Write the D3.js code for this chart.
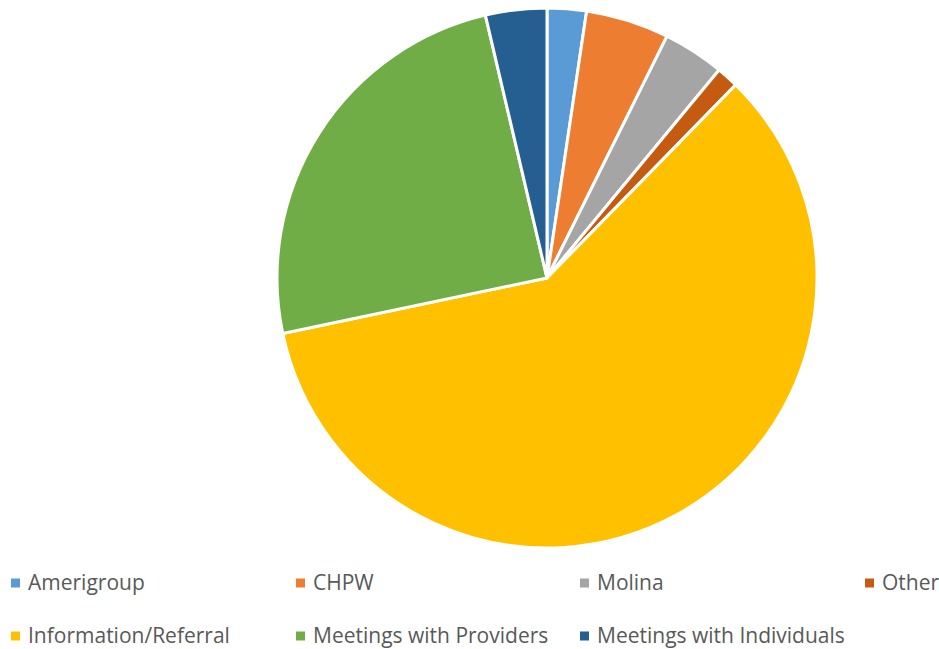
<!DOCTYPE html>
<html>
<head>
<meta charset="utf-8">
<script src="https://cdn.jsdelivr.net/npm/d3@7"></script>
<style>
  html, body { margin: 0; padding: 0; background: #fff; }
  svg { display: block; }
</style>
</head>
<body>
<svg id="chart" width="939" height="649"></svg>
<script>
// Contact categories and their counts
const categories = [
  "Amerigroup", "CHPW", "Molina", "Other",
  "Information/Referral", "Meetings with Providers", "Meetings with Individuals"
];
const values = [16, 34, 25, 9, 405, 168, 25];
const colors = ["#5B9BD5", "#ED7D31", "#A5A5A5", "#C55A11", "#FFC000", "#70AD47", "#255E91"];

const svg = d3.select("#chart");
const cx = 547, cy = 278, radius = 270;

const data = categories.map((c, i) => ({ name: c, value: values[i] }));
const color = d3.scaleOrdinal().domain(categories).range(colors);

const pie = d3.pie().value(d => d.value).sort(null);
const arc = d3.arc().innerRadius(0).outerRadius(radius);

svg.append("g")
  .attr("transform", `translate(${cx},${cy})`)
  .selectAll("path")
  .data(pie(data))
  .join("path")
  .attr("d", arc)
  .attr("fill", d => color(d.data.name))
  .attr("stroke", "#fff")
  .attr("stroke-width", 3)
  .attr("stroke-linejoin", "round");

// Legend: two rows, four columns
const colX = [11, 296, 580, 865];
const rowY = [583, 636];
const legend = svg.append("g").attr("class", "legend");
const items = legend.selectAll("g")
  .data(categories)
  .join("g")
  .attr("transform", (d, i) => `translate(${colX[i % 4]},${rowY[Math.floor(i / 4)]})`);
items.append("rect")
  .attr("x", 0).attr("y", -4.5)
  .attr("width", 9).attr("height", 9)
  .attr("fill", d => color(d));
items.append("text")
  .attr("x", 17).attr("y", 0)
  .attr("dy", "0.35em")
  .attr("font-family", "'Open Sans', sans-serif")
  .attr("font-size", 21)
  .attr("fill", "#595959")
  .text(d => d);
</script>
</body>
</html>
